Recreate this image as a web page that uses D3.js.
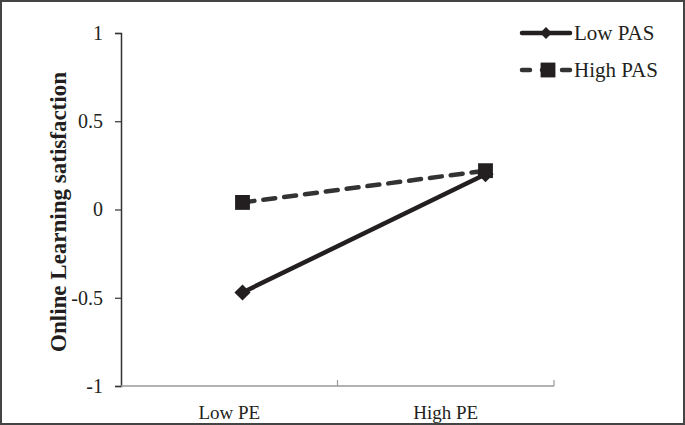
<!DOCTYPE html>
<html>
<head>
<meta charset="utf-8">
<script src="https://cdn.jsdelivr.net/npm/d3@7"></script>
<style>
  body { margin: 0; background: #fff; }
  svg { display: block; }
</style>
</head>
<body>
<div id="chart"></div>
<script>
// data
const categories = ["Low PE", "High PE"];
const lowPAS = [-0.47, 0.20];
const highPAS = [0.04, 0.22];
const seriesNames = ["Low PAS", "High PAS"];
const yTicks = [-1, -0.5, 0, 0.5, 1];

const width = 685;
const height = 425;
const ink = "#231f20";

const svg = d3.select("#chart")
  .append("svg")
  .attr("width", width)
  .attr("height", height);

// outer frame
svg.append("rect")
  .attr("x", 1).attr("y", 1)
  .attr("width", width - 2).attr("height", height - 2)
  .attr("fill", "none")
  .attr("stroke", "#444")
  .attr("stroke-width", 2);

const y = d3.scaleLinear().domain([-1, 1]).range([386, 33]);

// category bands for the axis, points for the markers
const xBand = d3.scaleBand().domain(categories).range([121, 554]);
const xPoint = d3.scalePoint().domain(categories).range([121, 607]).padding(0.5);

// y axis (plain hyphen for negatives, like the original)
const yAxis = svg.append("g")
  .attr("transform", "translate(121,0)")
  .call(d3.axisLeft(y).tickValues(yTicks).tickSize(6).tickPadding(12)
    .tickFormat(d => String(d)));
yAxis.select(".domain").attr("stroke", "#333").attr("stroke-width", 1.5);
yAxis.selectAll(".tick line").attr("stroke", "#333").attr("stroke-width", 1.2);
yAxis.selectAll(".tick text")
  .attr("font-family", "Liberation Serif, serif")
  .attr("font-size", 20)
  .attr("fill", ink);

// x axis: line with tick marks at band edges
const xAxisG = svg.append("g").attr("transform", "translate(0,386)");
xAxisG.append("line")
  .attr("x1", xBand.range()[0]).attr("x2", xBand.range()[1])
  .attr("stroke", "#999").attr("stroke-width", 1.5);
const edges = categories.map(c => xBand(c)).concat([xBand.range()[1]]);
xAxisG.selectAll(".xtick")
  .data(edges.slice(1))
  .enter()
  .append("line")
  .attr("x1", d => d).attr("x2", d => d)
  .attr("y1", 0).attr("y2", -6)
  .attr("stroke", "#999").attr("stroke-width", 1.2);
xAxisG.selectAll(".xlabel")
  .data(categories)
  .enter()
  .append("text")
  .attr("x", d => xBand(d) + xBand.bandwidth() / 2)
  .attr("y", 33)
  .attr("text-anchor", "middle")
  .attr("font-family", "Liberation Serif, serif")
  .attr("font-size", 19)
  .attr("fill", ink)
  .text(d => d);

// y axis title
svg.append("text")
  .attr("transform", "translate(66,212) rotate(-90)")
  .attr("text-anchor", "middle")
  .attr("font-family", "Liberation Serif, serif")
  .attr("font-weight", "bold")
  .attr("font-size", 23)
  .attr("fill", ink)
  .text("Online Learning satisfaction");

const line = d3.line()
  .x((d, i) => xPoint(categories[i]))
  .y(d => y(d));

const square = d3.symbol().type(d3.symbolSquare).size(220);

// Low PAS: solid with diamonds
svg.append("path")
  .datum(lowPAS)
  .attr("d", line)
  .attr("fill", "none")
  .attr("stroke", ink)
  .attr("stroke-width", 4.5);

svg.selectAll(".low")
  .data(lowPAS)
  .enter()
  .append("path")
  .attr("transform", (d, i) => `translate(${xPoint(categories[i])},${y(d)}) rotate(45)`)
  .attr("d", d3.symbol().type(d3.symbolSquare).size(130))
  .attr("fill", ink);

// High PAS: dashed with squares
svg.append("path")
  .datum(highPAS)
  .attr("d", line)
  .attr("fill", "none")
  .attr("stroke", "#333")
  .attr("stroke-width", 4.5)
  .attr("stroke-linecap", "round")
  .attr("stroke-dasharray", "12,9");

svg.selectAll(".high")
  .data(highPAS)
  .enter()
  .append("path")
  .attr("transform", (d, i) => `translate(${xPoint(categories[i])},${y(d)})`)
  .attr("d", square)
  .attr("fill", ink);

// legend
const legend = svg.selectAll(".legend")
  .data(seriesNames)
  .enter()
  .append("g")
  .attr("transform", (d, i) => `translate(522,${33 + i * 37})`);

legend.append("line")
  .attr("x1", 0).attr("x2", 48)
  .attr("stroke", (d, i) => i ? "#333" : ink)
  .attr("stroke-width", 4.5)
  .attr("stroke-linecap", "round")
  .attr("stroke-dasharray", (d, i) => i ? "8,12" : null);

legend.append("path")
  .attr("transform", (d, i) => i ? "translate(26,0)" : "translate(24,0) rotate(45)")
  .attr("d", (d, i) => i ? square() : d3.symbol().type(d3.symbolSquare).size(70)())
  .attr("fill", ink);

legend.append("text")
  .attr("x", 52)
  .attr("y", 0)
  .attr("dy", "0.33em")
  .attr("font-family", "Liberation Serif, serif")
  .attr("font-size", 21)
  .attr("fill", ink)
  .text(d => d);
</script>
</body>
</html>
